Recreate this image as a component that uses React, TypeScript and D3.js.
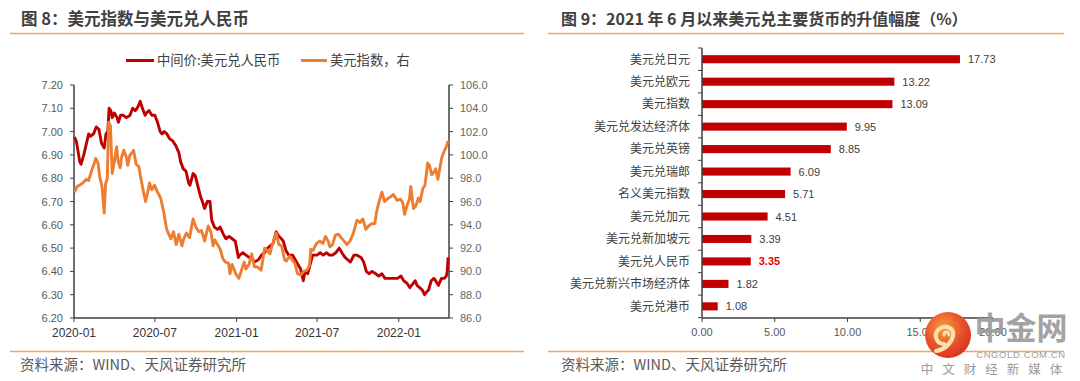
import React from "react";
import * as d3 from "d3";

const usdCny: [string, number][] = [
  ["2020-01-02", 6.976], ["2020-01-06", 6.96], ["2020-01-08", 6.94], ["2020-01-14", 6.87], ["2020-01-17", 6.86], ["2020-01-23", 6.9],
  ["2020-02-03", 6.99], ["2020-02-07", 6.98], ["2020-02-14", 6.99], ["2020-02-20", 7.02], ["2020-02-26", 7.01],
  ["2020-03-03", 6.95], ["2020-03-09", 6.93], ["2020-03-13", 6.99], ["2020-03-17", 7.0], ["2020-03-20", 7.1],
  ["2020-03-24", 7.09], ["2020-03-27", 7.06], ["2020-04-01", 7.08], ["2020-04-07", 7.06], ["2020-04-10", 7.04],
  ["2020-04-15", 7.07], ["2020-04-21", 7.07], ["2020-04-28", 7.06], ["2020-05-06", 7.07], ["2020-05-12", 7.1],
  ["2020-05-18", 7.09], ["2020-05-22", 7.1], ["2020-05-27", 7.12], ["2020-05-29", 7.13], ["2020-06-03", 7.1],
  ["2020-06-09", 7.07], ["2020-06-12", 7.08], ["2020-06-18", 7.09], ["2020-06-24", 7.07], ["2020-07-01", 7.07],
  ["2020-07-07", 7.04], ["2020-07-13", 7.0], ["2020-07-17", 6.99], ["2020-07-22", 7.0], ["2020-07-28", 6.99],
  ["2020-08-03", 6.97], ["2020-08-10", 6.96], ["2020-08-17", 6.94], ["2020-08-24", 6.91], ["2020-08-28", 6.87],
  ["2020-09-03", 6.84], ["2020-09-09", 6.83], ["2020-09-15", 6.78], ["2020-09-18", 6.77], ["2020-09-25", 6.82],
  ["2020-09-30", 6.81], ["2020-10-12", 6.72], ["2020-10-16", 6.7], ["2020-10-21", 6.67], ["2020-10-27", 6.7],
  ["2020-11-02", 6.7], ["2020-11-06", 6.62], ["2020-11-12", 6.59], ["2020-11-19", 6.58], ["2020-11-25", 6.59],
  ["2020-12-02", 6.56], ["2020-12-08", 6.54], ["2020-12-15", 6.55], ["2020-12-22", 6.54], ["2020-12-29", 6.53],
  ["2021-01-05", 6.46], ["2021-01-08", 6.47], ["2021-01-15", 6.48], ["2021-01-22", 6.47], ["2021-01-29", 6.46],
  ["2021-02-04", 6.46], ["2021-02-10", 6.44], ["2021-02-19", 6.45], ["2021-02-26", 6.47], ["2021-03-05", 6.48],
  ["2021-03-12", 6.5], ["2021-03-18", 6.51], ["2021-03-24", 6.52], ["2021-03-31", 6.57], ["2021-04-06", 6.55],
  ["2021-04-12", 6.54], ["2021-04-16", 6.53], ["2021-04-22", 6.49], ["2021-04-28", 6.47], ["2021-05-07", 6.47],
  ["2021-05-13", 6.45], ["2021-05-19", 6.43], ["2021-05-25", 6.41], ["2021-05-31", 6.36], ["2021-06-04", 6.4],
  ["2021-06-10", 6.39], ["2021-06-17", 6.44], ["2021-06-21", 6.47], ["2021-06-25", 6.47], ["2021-07-01", 6.47],
  ["2021-07-08", 6.48], ["2021-07-15", 6.47], ["2021-07-22", 6.48], ["2021-07-29", 6.47], ["2021-08-05", 6.47],
  ["2021-08-12", 6.48], ["2021-08-20", 6.5], ["2021-08-26", 6.48], ["2021-09-02", 6.46], ["2021-09-08", 6.45],
  ["2021-09-14", 6.44], ["2021-09-22", 6.47], ["2021-09-28", 6.47], ["2021-10-08", 6.46], ["2021-10-14", 6.44],
  ["2021-10-20", 6.4], ["2021-10-26", 6.39], ["2021-11-02", 6.4], ["2021-11-10", 6.39], ["2021-11-17", 6.38],
  ["2021-11-24", 6.39], ["2021-12-01", 6.37], ["2021-12-08", 6.37], ["2021-12-15", 6.37], ["2021-12-22", 6.37],
  ["2021-12-29", 6.37], ["2022-01-06", 6.38], ["2022-01-12", 6.36], ["2022-01-19", 6.35], ["2022-01-26", 6.33],
  ["2022-02-07", 6.36], ["2022-02-11", 6.34], ["2022-02-17", 6.33], ["2022-02-23", 6.32], ["2022-02-28", 6.3],
  ["2022-03-04", 6.31], ["2022-03-09", 6.32], ["2022-03-15", 6.36], ["2022-03-21", 6.37], ["2022-03-25", 6.36],
  ["2022-03-31", 6.34], ["2022-04-07", 6.37], ["2022-04-13", 6.37], ["2022-04-18", 6.38], ["2022-04-20", 6.4],
  ["2022-04-22", 6.46],
];

const dxy: [string, number][] = [
  ["2020-01-02", 96.8], ["2020-01-08", 97.3], ["2020-01-14", 97.4], ["2020-01-21", 97.6], ["2020-01-28", 97.9],
  ["2020-02-03", 97.8], ["2020-02-10", 98.7], ["2020-02-14", 99.1], ["2020-02-19", 99.7], ["2020-02-24", 99.3],
  ["2020-02-28", 98.1], ["2020-03-04", 97.3], ["2020-03-09", 95.0], ["2020-03-12", 97.5], ["2020-03-16", 98.0],
  ["2020-03-19", 102.8], ["2020-03-23", 102.5], ["2020-03-27", 98.4], ["2020-04-01", 99.5], ["2020-04-06", 100.7],
  ["2020-04-09", 99.5], ["2020-04-14", 98.9], ["2020-04-17", 99.8], ["2020-04-22", 100.4], ["2020-04-28", 99.8],
  ["2020-05-01", 99.1], ["2020-05-06", 100.0], ["2020-05-11", 100.2], ["2020-05-14", 100.4], ["2020-05-20", 99.2],
  ["2020-05-26", 99.0], ["2020-05-29", 98.3], ["2020-06-05", 96.9], ["2020-06-10", 96.0], ["2020-06-15", 96.8],
  ["2020-06-19", 97.6], ["2020-06-24", 97.0], ["2020-06-30", 97.4], ["2020-07-07", 96.8], ["2020-07-14", 96.3],
  ["2020-07-21", 95.1], ["2020-07-27", 93.7], ["2020-07-31", 93.3], ["2020-08-06", 92.8], ["2020-08-12", 93.4],
  ["2020-08-18", 92.3], ["2020-08-24", 93.2], ["2020-08-31", 92.2], ["2020-09-04", 92.8], ["2020-09-10", 93.3],
  ["2020-09-17", 92.9], ["2020-09-25", 94.5], ["2020-10-01", 93.8], ["2020-10-08", 93.4], ["2020-10-14", 93.5],
  ["2020-10-21", 92.6], ["2020-10-29", 93.9], ["2020-11-04", 93.4], ["2020-11-09", 92.2], ["2020-11-13", 92.7],
  ["2020-11-19", 92.3], ["2020-11-25", 91.9], ["2020-12-01", 91.1], ["2020-12-07", 90.8], ["2020-12-14", 90.7],
  ["2020-12-17", 89.8], ["2020-12-22", 90.6], ["2020-12-30", 89.8], ["2021-01-06", 89.4], ["2021-01-12", 90.1],
  ["2021-01-18", 90.8], ["2021-01-22", 90.2], ["2021-01-29", 90.6], ["2021-02-04", 91.5], ["2021-02-10", 90.4],
  ["2021-02-16", 90.4], ["2021-02-25", 90.1], ["2021-03-01", 91.0], ["2021-03-05", 92.0], ["2021-03-09", 91.9],
  ["2021-03-17", 91.5], ["2021-03-23", 92.4], ["2021-03-31", 93.3], ["2021-04-06", 92.3], ["2021-04-12", 92.2],
  ["2021-04-19", 91.0], ["2021-04-23", 90.9], ["2021-04-30", 91.3], ["2021-05-06", 91.0], ["2021-05-12", 90.7],
  ["2021-05-18", 89.8], ["2021-05-25", 89.7], ["2021-06-01", 90.0], ["2021-06-08", 90.1], ["2021-06-14", 90.5],
  ["2021-06-17", 91.9], ["2021-06-22", 91.8], ["2021-06-30", 92.4], ["2021-07-07", 92.6], ["2021-07-14", 92.4],
  ["2021-07-20", 93.0], ["2021-07-26", 92.6], ["2021-07-30", 92.1], ["2021-08-05", 92.3], ["2021-08-11", 93.1],
  ["2021-08-18", 93.2], ["2021-08-24", 92.9], ["2021-08-31", 92.6], ["2021-09-06", 92.3], ["2021-09-13", 92.6],
  ["2021-09-20", 93.2], ["2021-09-29", 94.4], ["2021-10-06", 94.2], ["2021-10-12", 94.5], ["2021-10-19", 93.6],
  ["2021-10-25", 93.9], ["2021-11-01", 94.1], ["2021-11-08", 94.1], ["2021-11-12", 95.1], ["2021-11-17", 95.9],
  ["2021-11-24", 96.8], ["2021-11-30", 96.0], ["2021-12-06", 96.2], ["2021-12-13", 96.4], ["2021-12-20", 96.6],
  ["2021-12-28", 96.1], ["2022-01-05", 96.2], ["2022-01-10", 95.9], ["2022-01-14", 94.9], ["2022-01-20", 95.7],
  ["2022-01-25", 96.2], ["2022-01-28", 97.3], ["2022-02-03", 95.4], ["2022-02-08", 95.6], ["2022-02-14", 96.3],
  ["2022-02-18", 96.0], ["2022-02-24", 97.1], ["2022-03-01", 97.4], ["2022-03-07", 99.3], ["2022-03-11", 99.1],
  ["2022-03-16", 98.3], ["2022-03-21", 98.5], ["2022-03-25", 98.8], ["2022-03-30", 97.9], ["2022-04-04", 99.0],
  ["2022-04-08", 99.8], ["2022-04-13", 100.3], ["2022-04-18", 100.7], ["2022-04-22", 101.2],
];

const leftTicks = [6.2, 6.3, 6.4, 6.5, 6.6, 6.7, 6.8, 6.9, 7.0, 7.1, 7.2];
const rightTicks = [86, 88, 90, 92, 94, 96, 98, 100, 102, 104, 106];
const xTickLabels = ["2020-01", "2020-07", "2021-01", "2021-07", "2022-01"];

const barCategories = [
  "美元兑日元", "美元兑欧元", "美元指数", "美元兑发达经济体", "美元兑英镑", "美元兑瑞郎",
  "名义美元指数", "美元兑加元", "美元兑新加坡元", "美元兑人民币", "美元兑新兴市场经济体", "美元兑港币",
];
const barValues = [17.73, 13.22, 13.09, 9.95, 8.85, 6.09, 5.71, 4.51, 3.39, 3.35, 1.82, 1.08];
const barTicks = [0, 5, 10, 15, 20];
const highlightCategory = "美元兑人民币";

const FONT = "'Liberation Sans', Arial, 'Noto Sans CJK SC', sans-serif";
const CJK = "'Noto Sans CJK SC', 'Liberation Sans', sans-serif";

export default function App() {
  const parse = d3.timeParse("%Y-%m-%d");
  const x = d3.scaleTime().domain([parse("2020-01-01")!, parse("2022-04-24")!]).range([74, 449]);
  const yL = d3.scaleLinear().domain([6.2, 7.2]).range([318, 85]);
  const yR = d3.scaleLinear().domain([86, 106]).range([318, 85]);
  const lineL = d3.line<[string, number]>().x((d) => x(parse(d[0])!)).y((d) => yL(d[1]));
  const lineR = d3.line<[string, number]>().x((d) => x(parse(d[0])!)).y((d) => yR(d[1]));
  const xTicks = xTickLabels.map((s) => parse(s + "-01")!);

  const yB = d3.scaleBand<string>().domain(barCategories).range([48, 317.6]).paddingInner(0.64).paddingOuter(0.32);
  const xB = d3.scaleLinear().domain([0, 20]).range([702, 993]);
  const step = yB.step();
  const bandEdges = d3.range(barCategories.length + 1).map((i) => 48 + i * step);

  const axisColor = "#404040";
  const tickText = "#595959";
  const sepColor = "#F4A362";

  return (
    <svg width={1080} height={381} style={{ position: "absolute", left: 0, top: 0, background: "#fff" }}>
      <defs>
        <radialGradient id="logoGrad" cx="40%" cy="35%" r="70%">
          <stop offset="0%" stopColor="#F6A03A" />
          <stop offset="60%" stopColor="#E8502A" />
          <stop offset="100%" stopColor="#D8301E" />
        </radialGradient>
      </defs>
      <rect x={0} y={0} width={1080} height={381} fill="#fff" />

      {/* ===== Left chart ===== */}
      <text x={21} y={25} fontFamily={CJK} fontSize={16.5} fontWeight="bold" fill="#404040">图 8：美元指数与美元兑人民币</text>
      <line x1={10} x2={524} y1={33.5} y2={33.5} stroke={sepColor} strokeWidth={1.5} />

      {/* legend */}
      <line x1={126} x2={154} y1={60.5} y2={60.5} stroke="#C00000" strokeWidth={3} />
      <text x={157} y={65} fontFamily={CJK} fontSize={13.3} fill="#404040">中间价:美元兑人民币</text>
      <line x1={301} x2={327} y1={60.5} y2={60.5} stroke="#ED7D31" strokeWidth={3} />
      <text x={330} y={65} fontFamily={CJK} fontSize={13.3} fill="#404040">美元指数，右</text>

      {/* left axis */}
      <line x1={74} x2={74} y1={85} y2={318} stroke={axisColor} strokeWidth={1.5} />
      {leftTicks.map((t) => (
        <g key={"l" + t}>
          <line x1={70} x2={74} y1={yL(t)} y2={yL(t)} stroke={axisColor} strokeWidth={1} />
          <text x={63} y={yL(t) + 4} textAnchor="end" fontFamily={FONT} fontSize={11} fill={tickText}>{t.toFixed(2)}</text>
        </g>
      ))}
      {/* right axis */}
      <line x1={449} x2={449} y1={85} y2={318} stroke={axisColor} strokeWidth={1.5} />
      {rightTicks.map((t) => (
        <g key={"r" + t}>
          <line x1={449} x2={453} y1={yR(t)} y2={yR(t)} stroke={axisColor} strokeWidth={1} />
          <text x={460} y={yR(t) + 4} textAnchor="start" fontFamily={FONT} fontSize={11} fill="#666">{t.toFixed(1)}</text>
        </g>
      ))}
      {/* x axis */}
      <line x1={74} x2={449} y1={318} y2={318} stroke={axisColor} strokeWidth={1.5} />
      {xTicks.map((d, i) => (
        <g key={"x" + i}>
          <line x1={x(d)} x2={x(d)} y1={318} y2={322} stroke={axisColor} strokeWidth={1} />
          <text x={x(d)} y={337} textAnchor="middle" fontFamily={FONT} fontSize={12} fill="#333">{xTickLabels[i]}</text>
        </g>
      ))}

      <path d={lineL(usdCny) || ""} fill="none" stroke="#C00000" strokeWidth={2.9} strokeLinejoin="round" />
      <path d={lineR(dxy) || ""} fill="none" stroke="#ED7D31" strokeWidth={2.9} strokeLinejoin="round" />

      <line x1={10} x2={524} y1={351.5} y2={351.5} stroke={sepColor} strokeWidth={1.5} />
      <text x={20} y={370} fontFamily={CJK} fontSize={14.5} fill="#595959">资料来源：WIND、天风证券研究所</text>

      {/* ===== Right chart ===== */}
      <text x={561} y={25} fontFamily={CJK} fontSize={16} fontWeight="bold" fill="#404040">图 9：2021 年 6 月以来美元兑主要货币的升值幅度（%）</text>
      <line x1={548} x2={1064} y1={33.5} y2={33.5} stroke={sepColor} strokeWidth={1.5} />

      {barCategories.map((c, i) => {
        const y0 = yB(c)!;
        const hl = c === highlightCategory;
        return (
          <g key={c}>
            <rect x={xB(0)} y={y0} width={xB(barValues[i]) - xB(0)} height={yB.bandwidth()} fill="#C00000" />
            <text x={690} y={y0 + yB.bandwidth() / 2 + 4.3} textAnchor="end" fontFamily={CJK} fontSize={12} fill="#404040">{c}</text>
            <text x={xB(barValues[i]) + 8} y={y0 + yB.bandwidth() / 2 + 4} fontFamily={FONT} fontSize={11}
              fontWeight={hl ? "bold" : "normal"} fill={hl ? "#E60000" : "#404040"}>{barValues[i].toFixed(2)}</text>
          </g>
        );
      })}
      <line x1={702} x2={702} y1={48} y2={318} stroke={axisColor} strokeWidth={1.5} />
      {bandEdges.map((e, i) => (
        <line key={"be" + i} x1={698} x2={702} y1={e} y2={e} stroke={axisColor} strokeWidth={1} />
      ))}
      <line x1={702} x2={993} y1={318} y2={318} stroke={axisColor} strokeWidth={1.5} />
      {barTicks.map((t) => (
        <g key={"bt" + t}>
          <line x1={xB(t)} x2={xB(t)} y1={318} y2={322} stroke={axisColor} strokeWidth={1} />
          <text x={xB(t)} y={336} textAnchor="middle" fontFamily={FONT} fontSize={11} fill={tickText}>{t.toFixed(2)}</text>
        </g>
      ))}

      <line x1={548} x2={1064} y1={351.5} y2={351.5} stroke={sepColor} strokeWidth={1.5} />
      <text x={561} y={370} fontFamily={CJK} fontSize={14.5} fill="#595959">资料来源：WIND、天风证券研究所</text>

      {/* ===== watermark ===== */}
      <circle cx={948} cy={335} r={23} fill="url(#logoGrad)" />
      <path d="M 944 344 C 936 344 933 334 939 329 C 945 324 955 328 953 336 C 951 344 944 350 936 351"
        fill="none" stroke="#FBE3B0" strokeWidth={4} strokeLinecap="round" />
      <path d="M 944 335 C 944 331 949 331 949 335" fill="none" stroke="#FBE3B0" strokeWidth={3} strokeLinecap="round" />
      <text x={1021} y={339} textAnchor="middle" fontFamily={CJK} fontSize={31} fontWeight="bold" fill="#9A9A9A" opacity={0.9}>中金网</text>
      <text x={1021} y={358} textAnchor="middle" fontFamily={FONT} fontSize={9.5} fill="#A0A0A0" letterSpacing={0.6}>CNGOLD.COM.CN</text>
      <text x={996} y={374} textAnchor="middle" fontFamily={CJK} fontSize={12.5} fill="#9A9A9A" letterSpacing={9}>中文财经新媒体</text>
    </svg>
  );
}
